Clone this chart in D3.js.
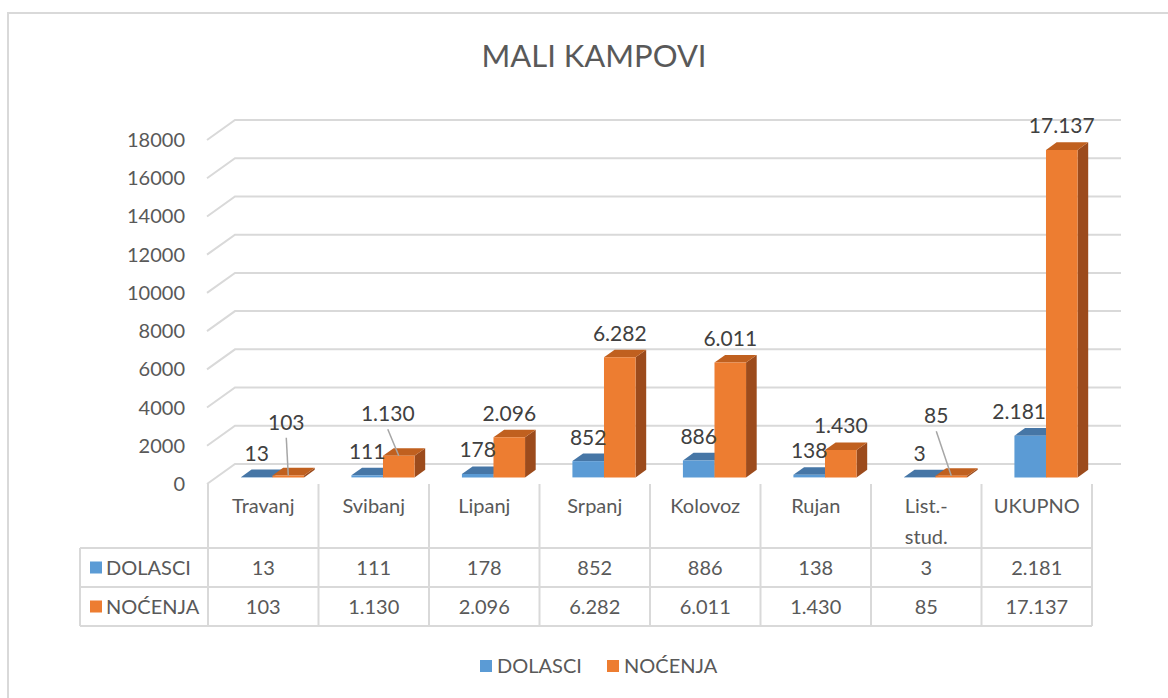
<!DOCTYPE html>
<html>
<head>
<meta charset="utf-8">
<script src="https://cdn.jsdelivr.net/npm/d3@7"></script>
<style>
  html, body { margin: 0; padding: 0; background: #fff; }
  svg { display: block; font-family: Lato, "Open Sans", sans-serif; }
</style>
</head>
<body>
<div id="chart"></div>
<script>
// chart values
const categories = ['Travanj', 'Svibanj', 'Lipanj', 'Srpanj', 'Kolovoz', 'Rujan', 'List.-\nstud.', 'UKUPNO'];
const seriesNames = ['DOLASCI', 'NOĆENJA'];
const dolasci = [13, 111, 178, 852, 886, 138, 3, 2181];
const nocenja = [103, 1130, 2096, 6282, 6011, 1430, 85, 17137];
const yTicks = [0, 2000, 4000, 6000, 8000, 10000, 12000, 14000, 16000, 18000];
const titleText = 'MALI KAMPOVI';

const width = 1168;
const height = 698;

const fill = ['#5b9bd5', '#ed7d31'];
const topFill = ['#4676a6', '#c0601f'];
const sideFill = ['#3e6a95', '#9c4b1c'];
const textColor = '#595959';
const gridColor = '#d9d9d9';

// floor front edge / depth of the 3D box
const plot = { left: 208, right: 1092, front: 484, top: 140 };
const depth = { dx: 28, dy: -20 };
const barFront = 0.33;
const barBack = 0.71;

// labels Excel pushed aside (series index, category index) -> shift, leader line
const labelMoves = {
    '1-0': { dx: -2, dy: -29, leader: true },
    '1-1': { dx: -11, dy: -18, leader: true },
    '1-6': { dx: -15, dy: -36, leader: true },
    '0-7': { dx: -11, dy: 0, leader: false }
};

const fmt = d3.formatLocale({ decimal: ',', thousands: '.', grouping: [3], currency: ['', ''] }).format(',d');

const svg = d3.select('#chart')
    .append('svg')
    .attr('width', width)
    .attr('height', height);

// outer chart border (runs off the right and bottom)
svg.append('rect')
    .attr('x', 8).attr('y', 13)
    .attr('width', 1200).attr('height', 720)
    .attr('fill', '#fff')
    .attr('stroke', gridColor)
    .attr('stroke-width', 2);

const x = d3.scaleBand()
    .domain(d3.range(categories.length))
    .range([plot.left, plot.right]);

const y = d3.scaleLinear()
    .domain([0, 18000])
    .range([plot.front, plot.top]);

// project a point at depth fraction d (0 = front, 1 = back wall)
function proj(px, v, d) {
    return [px + d * depth.dx, y(v) + d * depth.dy];
}

// title
svg.append('text')
    .attr('x', 594)
    .attr('y', 67)
    .attr('text-anchor', 'middle')
    .attr('font-size', 31)
    .attr('fill', textColor)
    .text(titleText);

// gridlines: side wall diagonal + back wall line
const gridGroup = svg.append('g').attr('class', 'grid');
yTicks.forEach(t => {
    const a = proj(plot.left - 1, t, 0);
    const b = proj(plot.left - 1, t, 1);
    const c = proj(plot.right + 1, t, 1);
    gridGroup.append('path')
        .attr('d', d3.line()([a, b, c]))
        .attr('fill', 'none')
        .attr('stroke', gridColor)
        .attr('stroke-width', 2);
});

// y axis tick labels
svg.append('g').attr('class', 'y-labels')
    .selectAll('text')
    .data(yTicks)
    .enter()
    .append('text')
    .attr('x', 185)
    .attr('y', d => y(d) + 7)
    .attr('text-anchor', 'end')
    .attr('font-size', 20)
    .attr('fill', textColor)
    .text(d => d);

// bars
const series = [dolasci, nocenja];
const bw = x.bandwidth() / 3.5;
const barGroup = svg.append('g').attr('class', 'bars');

function barX(s, i) {
    const c = x(i) + x.bandwidth() / 2;
    return s === 0 ? c - bw : c;
}

categories.forEach((cat, i) => {
    series.forEach((vals, s) => {
        const v = vals[i];
        const x0 = barX(s, i);
        const x1 = x0 + bw;
        const fbl = proj(x0, 0, barFront), fbr = proj(x1, 0, barFront);
        const ftl = proj(x0, v, barFront), ftr = proj(x1, v, barFront);
        const bbr = proj(x1, 0, barBack);
        const btl = proj(x0, v, barBack), btr = proj(x1, v, barBack);
        const g = barGroup.append('g');
        g.append('path')
            .attr('d', d3.line()([fbr, ftr, btr, bbr]) + 'Z')
            .attr('fill', sideFill[s]);
        g.append('path')
            .attr('d', d3.line()([ftl, ftr, btr, btl]) + 'Z')
            .attr('fill', topFill[s]);
        g.append('path')
            .attr('d', d3.line()([fbl, fbr, ftr, ftl]) + 'Z')
            .attr('fill', fill[s]);
    });
});

// data labels
const labelGroup = svg.append('g').attr('class', 'labels');
categories.forEach((cat, i) => {
    series.forEach((vals, s) => {
        const v = vals[i];
        const cx = barX(s, i) + bw / 2;
        const frontTop = proj(cx, v, barFront);
        const backTop = proj(cx, v, barBack);
        const move = labelMoves[s + '-' + i] || { dx: 0, dy: 0, leader: false };
        const lx = frontTop[0] + move.dx;
        const ly = backTop[1] - 17 + move.dy;
        if (move.leader) {
            labelGroup.append('line')
                .attr('x1', lx).attr('y1', ly + 16)
                .attr('x2', frontTop[0]).attr('y2', frontTop[1])
                .attr('stroke', '#a6a6a6')
                .attr('stroke-width', 1.5);
        }
        labelGroup.append('text')
            .attr('x', lx)
            .attr('y', ly + 8)
            .attr('text-anchor', 'middle')
            .attr('font-size', 21)
            .attr('fill', '#404040')
            .text(fmt(v));
    });
});

// data table under the plot
const table = { left: 80, rows: [548, 587, 626] };
const tableGroup = svg.append('g').attr('class', 'table');
const tableLine = (x1, y1, x2, y2) => tableGroup.append('line')
    .attr('x1', x1).attr('y1', y1).attr('x2', x2).attr('y2', y2)
    .attr('stroke', gridColor).attr('stroke-width', 2);

table.rows.forEach(r => tableLine(table.left, r, plot.right, r));
tableLine(table.left, table.rows[0], table.left, table.rows[2]);
d3.range(categories.length + 1).forEach(i => {
    const xx = i < categories.length ? x(i) : plot.right;
    tableLine(xx, plot.front, xx, table.rows[2]);
});

// category headers
categories.forEach((cat, i) => {
    const t = tableGroup.append('text')
        .attr('x', x(i) + x.bandwidth() / 2)
        .attr('y', 513)
        .attr('text-anchor', 'middle')
        .attr('font-size', 20)
        .attr('fill', textColor);
    cat.split('\n').forEach((line, k) => {
        t.append('tspan')
            .attr('x', x(i) + x.bandwidth() / 2)
            .attr('dy', k === 0 ? 0 : 31)
            .text(line);
    });
});

// series rows
series.forEach((vals, s) => {
    const rowMid = (table.rows[s] + table.rows[s + 1]) / 2;
    tableGroup.append('rect')
        .attr('x', 90).attr('y', rowMid - 6)
        .attr('width', 12).attr('height', 12)
        .attr('fill', fill[s]);
    tableGroup.append('text')
        .attr('x', 106)
        .attr('y', rowMid + 7)
        .attr('font-size', 20)
        .attr('fill', textColor)
        .text(seriesNames[s]);
    vals.forEach((v, i) => {
        tableGroup.append('text')
            .attr('x', x(i) + x.bandwidth() / 2)
            .attr('y', rowMid + 7)
            .attr('text-anchor', 'middle')
            .attr('font-size', 20)
            .attr('fill', textColor)
            .text(fmt(v));
    });
});

// legend
const legend = svg.append('g').attr('class', 'legend');
const legendX = [480, 607];
seriesNames.forEach((name, s) => {
    legend.append('rect')
        .attr('x', legendX[s]).attr('y', 660)
        .attr('width', 12).attr('height', 12)
        .attr('fill', fill[s]);
    legend.append('text')
        .attr('x', legendX[s] + 17)
        .attr('y', 673)
        .attr('font-size', 20)
        .attr('fill', textColor)
        .text(name);
});
</script>
</body>
</html>
